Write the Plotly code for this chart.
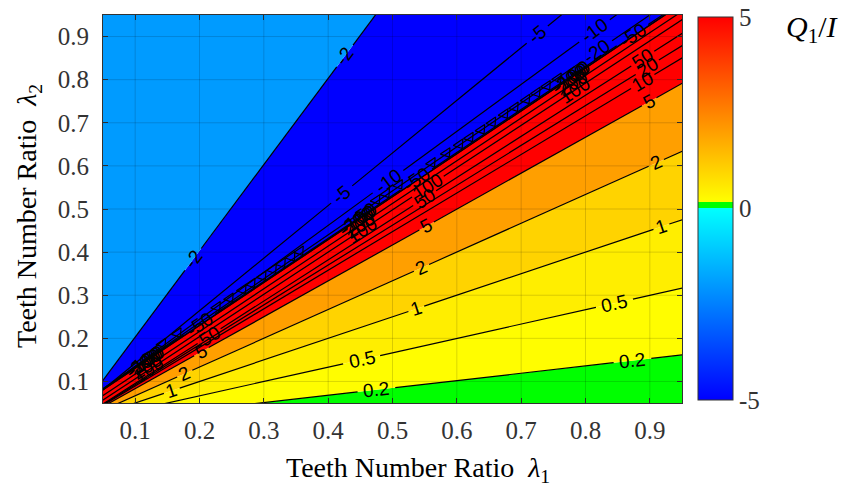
import math
import plotly.graph_objects as go

# ---------------- data ----------------
tick_vals = [0.1, 0.2, 0.3, 0.4, 0.5, 0.6, 0.7, 0.8, 0.9]
tick_text = ["0.1", "0.2", "0.3", "0.4", "0.5", "0.6", "0.7", "0.8", "0.9"]

# contour lines: lambda2 = slope * lambda1 + offset
contour_levels = [-2, -5, -10, -20, -50, -100, -200, 200, 100, 50, 20, 10, 5, 2, 1, 0.5, 0.2]
line_slopes = [2.0, 1.22, 1.09, 1.02, 0.997, 0.995, 0.995, 0.99, 0.98, 0.955, 0.925, 0.895,
               0.833, 0.667, 0.5, 0.333, 0.17]
line_offsets = [0.003, 0.02, 0.026, 0.032, 0.033, 0.031, 0.031, 0.018, 0.008, 0.0, 0.0, 0.0,
                0.0, 0.0, 0.0, 0.0, 0.0]

# lambda1 positions of the inline labels on each contour
label_pos = {
    -2: [0.19, 0.426],
    -5: [0.421, 0.725],
    -10: [0.493, 0.814],
    -20: [0.817],
    -50: [0.20, 0.537, 0.873],
    100: [0.555],
    50: [0.215, 0.55, 0.889],
    20: [0.896],
    10: [0.889],
    5: [0.203, 0.553, 0.899],
    2: [0.177, 0.545, 0.91],
    1: [0.157, 0.537, 0.918],
    0.5: [0.452, 0.845],
    0.2: [0.475, 0.873],
}

# clusters of overlapping labels near the singular line
blob_l1 = [0.118, 0.449, 0.78]
blob_levels = [-200, -100, 200, 100, -50]

# small open-triangle marks along the singular line
tri_l1 = [0.142, 0.166, 0.227, 0.247, 0.267, 0.281, 0.298, 0.314, 0.328, 0.343, 0.356,
          0.475, 0.49, 0.51, 0.561, 0.584, 0.604, 0.62, 0.638, 0.655, 0.674, 0.69, 0.708,
          0.724, 0.74, 0.757]
tri_offset = 0.046

# filled bands, bottom to top (edge contour levels and fill colours)
band_edges = [0.2, 0.5, 1, 2, 5, -200, -2]
band_colors = ["#00FF00", "#FFFD00", "#FFEE00", "#FFD300", "#FF9F00", "#FF0000", "#0000FF", "#009BFF"]

cbar_vals = [-5, 0, 5]
cbar_text = ["-5", "0", "5"]

# ---------------- geometry helpers ----------------
W, H = 847, 492
ML, MR, MT, MB = 103, 165, 15, 89
PW, PH = W - ML - MR, H - MT - MB
XR = [0.05, 0.95]
YR = [0.05, 0.95]
px_per_x = PW / (XR[1] - XR[0])
px_per_y = PH / (YR[1] - YR[0])
LAB_SIZE = 19


def line_of(level):
    i = contour_levels.index(level)
    return line_slopes[i], line_offsets[i]


def fmt(level):
    return "%g" % level


def angle_of(s):
    return math.atan(s * px_per_y / px_per_x)


fig = go.Figure()

# filled bands
fig.add_trace(go.Scatter(x=[0, 1], y=[-1, -1], mode="lines", line=dict(width=0),
                         hoverinfo="skip", showlegend=False))
for k, lev in enumerate(band_edges):
    s, c = line_of(lev)
    fig.add_trace(go.Scatter(x=[0, 1], y=[c, s + c], mode="lines", line=dict(width=0),
                             fill="tonexty", fillcolor=band_colors[k],
                             hoverinfo="skip", showlegend=False))
fig.add_trace(go.Scatter(x=[0, 1], y=[2, 2], mode="lines", line=dict(width=0),
                         fill="tonexty", fillcolor=band_colors[-1],
                         hoverinfo="skip", showlegend=False))

annotations = []
lab_font = dict(family="Liberation Sans, Arial, sans-serif", size=LAB_SIZE, color="#000000")

# contour lines with gaps at labels
for lev, s, c in zip(contour_levels, line_slopes, line_offsets):
    theta = angle_of(s)
    txt = fmt(lev)
    half_px = len(txt) * 0.56 * LAB_SIZE / 2 + 3
    d = half_px * math.cos(theta) / px_per_x
    pos = sorted(label_pos.get(lev, []))
    xs, ys = [], []
    start = 0.0
    for p in pos:
        xs += [start, p - d, None]
        ys += [s * start + c, s * (p - d) + c, None]
        start = p + d
    xs += [start, 1.0]
    ys += [s * start + c, s * 1.0 + c]
    fig.add_trace(go.Scatter(x=xs, y=ys, mode="lines", line=dict(color="#000000", width=1.2),
                             hoverinfo="skip", showlegend=False, connectgaps=False))
    for p in pos:
        annotations.append(dict(x=p, y=s * p + c, xref="x", yref="y", text=txt,
                                showarrow=False, textangle=-math.degrees(theta),
                                font=lab_font, xanchor="center", yanchor="middle"))

# overlapping label clusters
for p in blob_l1:
    for k, lev in enumerate(blob_levels):
        s, c = line_of(lev)
        q = p + (k - 2) * 0.003
        annotations.append(dict(x=q, y=s * q + c, xref="x", yref="y", text=fmt(lev),
                                showarrow=False, textangle=-math.degrees(angle_of(s)),
                                font=lab_font, xanchor="center", yanchor="middle"))

# triangle marks
fig.add_trace(go.Scatter(x=tri_l1, y=[v + tri_offset for v in tri_l1], mode="markers",
                         marker=dict(symbol="triangle-down-open", size=10, angle=-34,
                                     color="#000000", line=dict(width=1.2, color="#000000")),
                         hoverinfo="skip", showlegend=False))

# colour bar (off-range dummy heatmap)
cscale = [[0.0, "#0000FF"], [0.5, "#00FFFF"], [0.5, "#00FF00"], [0.517, "#00FF00"],
          [0.517, "#FFFF00"], [1.0, "#FF0000"]]
serif = "Liberation Serif, Times New Roman, serif"
fig.add_trace(go.Heatmap(z=[[-5, 5]], x=[-3, -2], y=[-3, -2], zmin=-5, zmax=5,
                         colorscale=cscale, hoverinfo="skip",
                         colorbar=dict(thickness=35, thicknessmode="pixels",
                                       len=383, lenmode="pixels",
                                       x=(698 - ML) / PW, xanchor="left", xpad=0,
                                       y=(403 - 208.5) / PH, yanchor="middle", ypad=0,
                                       outlinewidth=1, outlinecolor="#333333",
                                       tickvals=cbar_vals, ticktext=cbar_text, ticks="",
                                       tickfont=dict(family=serif, size=25, color="#333333"))))

# grid lines drawn above the fills
shapes = []
for v in tick_vals:
    shapes.append(dict(type="line", xref="x", yref="y", x0=v, x1=v, y0=YR[0], y1=YR[1],
                       line=dict(color="rgba(0,0,0,0.15)", width=1), layer="above"))
    shapes.append(dict(type="line", xref="x", yref="y", y0=v, y1=v, x0=XR[0], x1=XR[1],
                       line=dict(color="rgba(0,0,0,0.15)", width=1), layer="above"))

annotations.append(dict(x=(418 - ML) / PW, y=(403 - 469) / PH, xref="paper", yref="paper",
                        text="Teeth Number Ratio  <i>λ</i><sub>1</sub>", showarrow=False,
                        font=dict(family=serif, size=28, color="#000000"),
                        xanchor="center", yanchor="middle"))
annotations.append(dict(x=(29 - ML) / PW, y=(403 - 216) / PH, xref="paper", yref="paper",
                        text="Teeth Number Ratio  <i>λ</i><sub>2</sub>", showarrow=False,
                        textangle=-90, font=dict(family=serif, size=28, color="#000000"),
                        xanchor="center", yanchor="middle"))
annotations.append(dict(x=(812 - ML) / PW, y=(403 - 29) / PH, xref="paper", yref="paper",
                        text="<i>Q</i><sub>1</sub>/<i>I</i>", showarrow=False,
                        font=dict(family=serif, size=30, color="#000000"),
                        xanchor="center", yanchor="middle"))

axis_common = dict(tickvals=tick_vals, ticktext=tick_text, ticks="inside", ticklen=5,
                   tickcolor="#333333", showline=True, linecolor="#333333", linewidth=1,
                   mirror="ticks", showgrid=False, zeroline=False, layer="above traces",
                   tickfont=dict(family=serif, size=25, color="#333333"), fixedrange=True)

fig.update_layout(
    width=W, height=H, margin=dict(l=ML, r=MR, t=MT, b=MB),
    paper_bgcolor="#FFFFFF", plot_bgcolor="#FFFFFF",
    xaxis=dict(range=XR, ticklabelstandoff=5, **axis_common),
    yaxis=dict(range=YR, ticklabelstandoff=8, **axis_common),
    shapes=shapes, annotations=annotations, showlegend=False,
)

fig.write_html("out.html")
